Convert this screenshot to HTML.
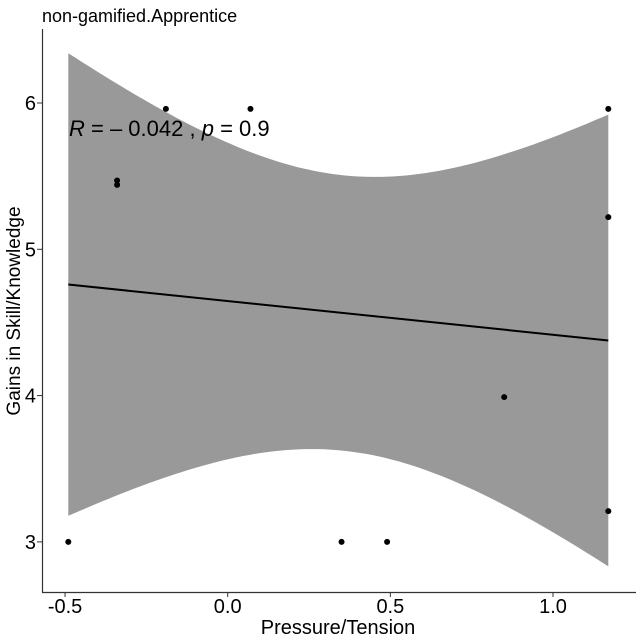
<!DOCTYPE html>
<html><head><meta charset="utf-8"><style>
body{margin:0;background:#fff}
svg{display:block;font-family:"Liberation Sans",Arial,sans-serif}
</style></head><body>
<svg id="c" width="640" height="640" viewBox="0 0 640 640">
<text x="42" y="22" font-size="18">non-gamified.Apprentice</text>
<g id="plot"></g>
<line x1="42.5" y1="29" x2="42.5" y2="592.5" stroke="#333" stroke-width="1.2"/>
<line x1="42" y1="592.5" x2="636" y2="592.5" stroke="#333" stroke-width="1.2"/>
<g id="axes"></g>
<text x="338" y="634" font-size="20" text-anchor="middle">Pressure/Tension</text>
<text transform="translate(20,311) rotate(-90)" font-size="19" text-anchor="middle">Gains in Skill/Knowledge</text>
<text x="69" y="136" font-size="22"><tspan font-style="italic">R</tspan> = – 0.042 , <tspan font-style="italic">p</tspan> = 0.9</text>
</svg>
<script>
const xs=[-0.49,-0.34,-0.34,-0.19,0.07,0.35,0.49,0.85,1.17,1.17,1.17];
const ys=[3.0,5.47,5.44,5.96,5.96,3.0,3.0,3.99,5.96,5.22,3.21];
const xTicks=[-0.5,0.0,0.5,1.0];
const xTickLabels=["-0.5","0.0","0.5","1.0"];
const yTicks=[3,4,5,6];
const yTickLabels=["3","4","5","6"];
const X=v=>227.7+v*325.3;
const Y=v=>103-(v-6)*146.3;
const NS="http://www.w3.org/2000/svg";
const plot=document.getElementById('plot'),axes=document.getElementById('axes');
function mk(t,a,p){const e=document.createElementNS(NS,t);for(const k in a)e.setAttribute(k,a[k]);p.appendChild(e);return e;}
const n=xs.length,mx=xs.reduce((a,b)=>a+b)/n,my=ys.reduce((a,b)=>a+b)/n;
let sxx=0,sxy=0;xs.forEach((x,i)=>{sxx+=(x-mx)**2;sxy+=(x-mx)*(ys[i]-my);});
const b=sxy/sxx,a=my-b*mx;
let sse=0;xs.forEach((x,i)=>{sse+=(ys[i]-a-b*x)**2;});
const s=Math.sqrt(sse/(n-2)),t=2.262;
const x0=Math.min(...xs),x1=Math.max(...xs);
let up=[],lo=[];
for(let k=0;k<=80;k++){const x=x0+(x1-x0)*k/80,f=a+b*x,h=t*s*Math.sqrt(1/n+(x-mx)**2/sxx);
up.push(X(x).toFixed(1)+','+Y(f+h).toFixed(1));lo.unshift(X(x).toFixed(1)+','+Y(f-h).toFixed(1));}
const rib=mk('polygon',{points:up.concat(lo).join(' '),fill:'#999999'},plot);


const ln=mk('line',{x1:X(x0),y1:Y(a+b*x0),x2:X(x1),y2:Y(a+b*x1),stroke:'#000','stroke-width':2},plot);


xs.forEach((x,i)=>{const c=mk('circle',{cx:X(x),cy:Y(ys[i]),r:3,fill:'#000'},plot);

});
xTicks.forEach((v,i)=>{mk('line',{x1:X(v),x2:X(v),y1:592,y2:597,stroke:'#333'},axes);
const tx=mk('text',{x:X(v),y:613,'font-size':20,'text-anchor':'middle',fill:'#000'},axes);tx.textContent=xTickLabels[i];

});
yTicks.forEach((v,i)=>{mk('line',{x1:37,x2:42,y1:Y(v),y2:Y(v),stroke:'#333'},axes);
const tx=mk('text',{x:36,y:Y(v)+7,'font-size':20,'text-anchor':'end',fill:'#000'},axes);tx.textContent=yTickLabels[i];

});
</script>
</body></html>
